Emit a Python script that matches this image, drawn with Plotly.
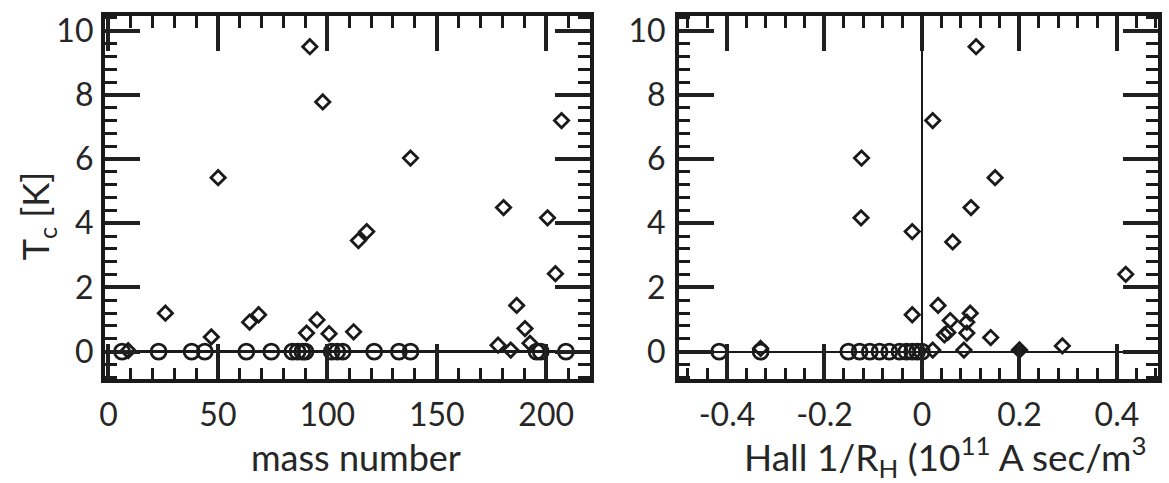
import plotly.graph_objects as go

# ---------------- data ----------------
# Left panel: Tc vs mass number
mass_sc = [9, 26, 47, 50.1, 64.5, 68.6, 90.5, 92, 95.3, 97.9, 100.8, 112, 114.2, 118,
           138, 178, 180.5, 183.8, 186.5, 190.3, 192.6, 200.6, 204.2, 207]
tc_sc = [0.03, 1.2, 0.46, 5.42, 0.92, 1.15, 0.58, 9.5, 0.99, 7.78, 0.56, 0.62, 3.46, 3.74,
         6.03, 0.2, 4.49, 0.05, 1.44, 0.72, 0.26, 4.17, 2.43, 7.2]
mass_normal = [6.2, 22.9, 38, 44, 63, 74.4, 84, 86.4, 88.6, 90, 102, 104.5, 107,
               121.4, 132.7, 138, 195.6, 197.5, 209]
tc_normal = [0.0] * len(mass_normal)

# Right panel: Tc vs Hall coefficient 1/R_H
hall_sc = [0.111, 0.022, -0.124, 0.15, 0.1006, -0.125, -0.02, 0.063, 0.418, 0.033,
           -0.02, 0.099, 0.058, 0.092, 0.092, 0.141, 0.046, 0.053, 0.288, 0.022,
           0.086, -0.331]
tc_hall_sc = [9.5, 7.2, 6.03, 5.42, 4.49, 4.17, 3.74, 3.42, 2.41, 1.44,
              1.15, 1.2, 0.97, 0.92, 0.58, 0.44, 0.52, 0.6, 0.18, 0.05,
              0.05, 0.1]
hall_filled = [0.2]
tc_hall_filled = [0.05]
hall_normal = [-0.416, -0.331, -0.151, -0.128, -0.107, -0.087, -0.067, -0.046,
               -0.032, -0.02, -0.01, 0.0]
tc_hall_normal = [0.0] * len(hall_normal)

# tick labels
mass_ticks = [0, 50, 100, 150, 200]
mass_ticktext = ["0", "50", "100", "150", "200"]
hall_ticks = [-0.4, -0.2, 0, 0.2, 0.4]
hall_ticktext = ["-0.4", "-0.2", "0", "0.2", "0.4"]
tc_ticks = [0, 2, 4, 6, 8, 10]
tc_ticktext = ["0", "2", "4", "6", "8", "10"]

# ---------------- figure ----------------
W, H = 1169, 483
INK = "#1a1a1a"
TICK = "#202020"
TXT = "#262626"
FONT = "Lato"
FS = 32
FT = 36

fig = go.Figure()

dia = dict(symbol="diamond-open", size=11, color=INK, line=dict(width=2.8, color=INK))
circ = dict(symbol="circle-open", size=15, color=INK, line=dict(width=2.8, color=INK))

fig.add_trace(go.Scatter(x=mass_normal, y=tc_normal, mode="markers", marker=circ,
                         xaxis="x", yaxis="y", showlegend=False, cliponaxis=False))
fig.add_trace(go.Scatter(x=mass_sc, y=tc_sc, mode="markers", marker=dia,
                         xaxis="x", yaxis="y", showlegend=False, cliponaxis=False))

fig.add_trace(go.Scatter(x=hall_normal, y=tc_hall_normal, mode="markers", marker=circ,
                         xaxis="x2", yaxis="y2", showlegend=False, cliponaxis=False))
fig.add_trace(go.Scatter(x=hall_sc, y=tc_hall_sc, mode="markers", marker=dia,
                         xaxis="x2", yaxis="y2", showlegend=False, cliponaxis=False))
fig.add_trace(go.Scatter(x=hall_filled, y=tc_hall_filled, mode="markers",
                         marker=dict(symbol="diamond", size=12, color=INK,
                                     line=dict(width=2, color=INK)),
                         xaxis="x2", yaxis="y2", showlegend=False, cliponaxis=False))

# empty traces so the overlay (major-tick) axes are drawn
fig.add_trace(go.Scatter(x=[], y=[], xaxis="x3", yaxis="y3", showlegend=False,
                         hoverinfo="skip"))
fig.add_trace(go.Scatter(x=[], y=[], xaxis="x4", yaxis="y4", showlegend=False,
                         hoverinfo="skip"))

ydom = [(H - 378) / H, (H - 10) / H]
yrange = [-0.8615, 10.4615]
xr1 = [-1.36, 220.0]
xr2 = [-0.4994, 0.4843]
xd1 = [100 / W, 587 / W]
xd2 = [676 / W, 1158 / W]

# base axes: frame + minor ticks
base = dict(showline=True, linewidth=3.5, linecolor=INK, mirror="allticks",
            ticks="inside", tickcolor=INK, tickwidth=3, ticklen=12,
            showgrid=False, showticklabels=False, tickmode="linear", tick0=0)
# overlay axes: long major ticks + labels
major = dict(showline=False, mirror="allticks", ticks="inside", tickcolor=TICK,
             tickwidth=3.5, ticklen=35, showgrid=False, zeroline=False,
             tickmode="array", tickfont=dict(family=FONT, size=FS, color=TXT))

fig.update_layout(
    width=W, height=H,
    margin=dict(l=0, r=0, t=0, b=0),
    paper_bgcolor="white", plot_bgcolor="rgba(0,0,0,0)",
    font=dict(family=FONT, color=TXT),
    xaxis=dict(domain=xd1, range=xr1, anchor="y", dtick=10, zeroline=False, **base),
    yaxis=dict(domain=ydom, range=yrange, anchor="x", dtick=0.4,
               zeroline=True, zerolinewidth=3, zerolinecolor=INK, **base),
    xaxis2=dict(domain=xd2, range=xr2, anchor="y2", dtick=0.04,
                zeroline=True, zerolinewidth=2.2, zerolinecolor=INK, **base),
    yaxis2=dict(domain=ydom, range=yrange, anchor="x2", dtick=0.4,
                zeroline=True, zerolinewidth=2.2, zerolinecolor=INK, **base),
    xaxis3=dict(overlaying="x", anchor="y3", range=xr1, ticklabelstandoff=14,
                tickvals=mass_ticks, ticktext=mass_ticktext, side="bottom", **major),
    yaxis3=dict(overlaying="y", anchor="x3", range=yrange, ticklabelstandoff=11,
                tickvals=tc_ticks, ticktext=tc_ticktext, side="left", **major),
    xaxis4=dict(overlaying="x2", anchor="y4", range=xr2, ticklabelstandoff=14,
                tickvals=hall_ticks, ticktext=hall_ticktext, side="bottom", **major),
    yaxis4=dict(overlaying="y2", anchor="x4", range=yrange, ticklabelstandoff=12,
                tickvals=tc_ticks, ticktext=tc_ticktext, side="left", **major),
)

fig.add_annotation(text="mass number", xref="paper", yref="paper",
                   x=352 / W, y=(H - 457) / H, showarrow=False,
                   font=dict(family=FONT, size=FT, color=TXT),
                   xanchor="center", yanchor="middle")
fig.add_annotation(text="Hall 1/R<sub>H</sub> (10<sup>11</sup> A sec/m<sup>3</sup>",
                   xref="paper", yref="paper",
                   x=944 / W, y=(H - 456) / H, showarrow=False,
                   font=dict(family=FONT, size=37, color=TXT),
                   xanchor="center", yanchor="middle")
fig.add_annotation(text="T<sub>c</sub> [K]", xref="paper", yref="paper",
                   x=32 / W, y=(H - 213) / H, showarrow=False, textangle=-90,
                   font=dict(family=FONT, size=FT, color=TXT),
                   xanchor="center", yanchor="middle")

fig.write_html("out.html")
